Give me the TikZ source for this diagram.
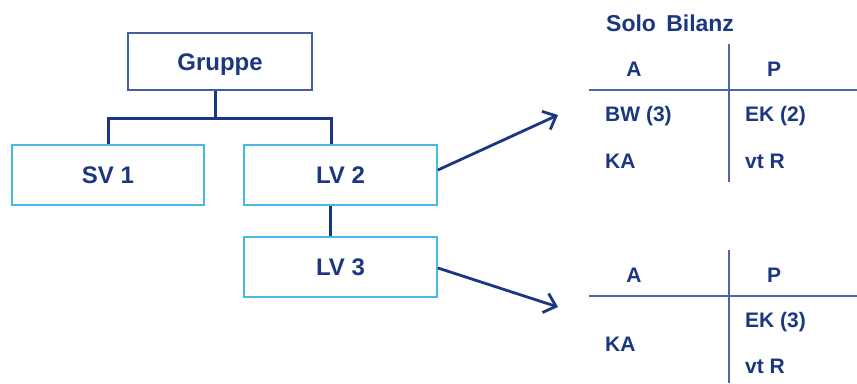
\documentclass[tikz,border=0pt]{standalone}
\usepackage{fontspec}
\setmainfont{Liberation Sans}
\usetikzlibrary{arrows.meta,calc}
\definecolor{navy}{RGB}{28,55,130}
\definecolor{grpborder}{RGB}{65,95,155}
\definecolor{lightbl}{RGB}{70,185,230}
\definecolor{tabline}{RGB}{75,105,165}
\tikzset{
  orgbox/.style={draw=lightbl, line width=1.8pt, minimum width=193pt, minimum height=60pt,
    inner sep=0pt, text=navy, font=\bfseries\fontsize{24}{24}\selectfont,
    text height=17pt, text depth=0pt},
  topbox/.style={orgbox, draw=grpborder, minimum width=184pt, minimum height=57pt},
  conn/.style={draw=navy, line width=3pt},
  arr/.style={draw=navy, line width=2.8pt, -{Straight Barb[length=11pt,width=20pt,line width=2.8pt]}},
  tab/.style={draw=tabline, line width=1.8pt},
  cell/.style={text=navy, font=\bfseries\fontsize{21}{21}\selectfont, inner sep=0pt},
}
\begin{document}
\begin{tikzpicture}[x=1pt,y=-1pt]
\useasboundingbox (0,0) rectangle (857,383);
% org boxes
\node[topbox] (grp) at (220,61.5) {Gruppe};
\node[orgbox, minimum width=192pt] (sv1) at (108,175) {SV 1};
\node[orgbox] (lv2) at (340.5,175) {LV 2};
\node[orgbox] (lv3) at (340.5,267) {LV 3};
% connectors
\coordinate (bus) at (215,118);
\coordinate (busL) at (108,118);
\coordinate (busR) at (331,118);
\draw[conn] (grp.south -| bus) -- (bus);
\draw[conn] (sv1.north) -- (busL) -- (busR) -- (lv2.north -| busR);
\draw[conn] ($(lv2.south)+(-10,0)$) -- ($(lv3.north)+(-10,0)$);
% arrows
\coordinate (tip1) at (558,115);
\coordinate (tip2) at (558,307);
\draw[arr] ($(lv2.east)+(0,-5)$) -- (tip1);
\draw[arr] ($(lv3.east)+(0,1)$) -- (tip2);
% top table
\node[cell, anchor=base west, font=\bfseries\fontsize{23}{23}\selectfont] (title) at (606,31) {Solo\ \,Bilanz};
\coordinate (t1v1) at (729,44);
\coordinate (t1v2) at (729,182);
\coordinate (t1h1) at (589,90);
\coordinate (t1h2) at (857,90);
\draw[tab] (t1v1) -- (t1v2);
\draw[tab] (t1h1) -- (t1h2);
\node[cell, anchor=base] (a1) at (634,76) {A};
\node[cell, anchor=base] (p1) at (774,76) {P};
\node[cell, anchor=base west] (bw) at (605,121) {BW (3)};
\node[cell, anchor=base west] (ek2) at (745,121) {EK (2)};
\node[cell, anchor=base west] (ka1) at (605,168) {KA};
\node[cell, anchor=base west] (vtr1) at (745,168) {vt R};
% bottom table
\coordinate (t2v1) at (729,250);
\coordinate (t2v2) at (729,383);
\coordinate (t2h1) at (589,296);
\coordinate (t2h2) at (857,296);
\draw[tab] (t2v1) -- (t2v2);
\draw[tab] (t2h1) -- (t2h2);
\node[cell, anchor=base] (a2) at (634,282) {A};
\node[cell, anchor=base] (p2) at (774,282) {P};
\node[cell, anchor=base west] (ek3) at (745,327) {EK (3)};
\node[cell, anchor=base west] (ka2) at (605,351) {KA};
\node[cell, anchor=base west] (vtr2) at (745,373) {vt R};
\end{tikzpicture}
\end{document}
